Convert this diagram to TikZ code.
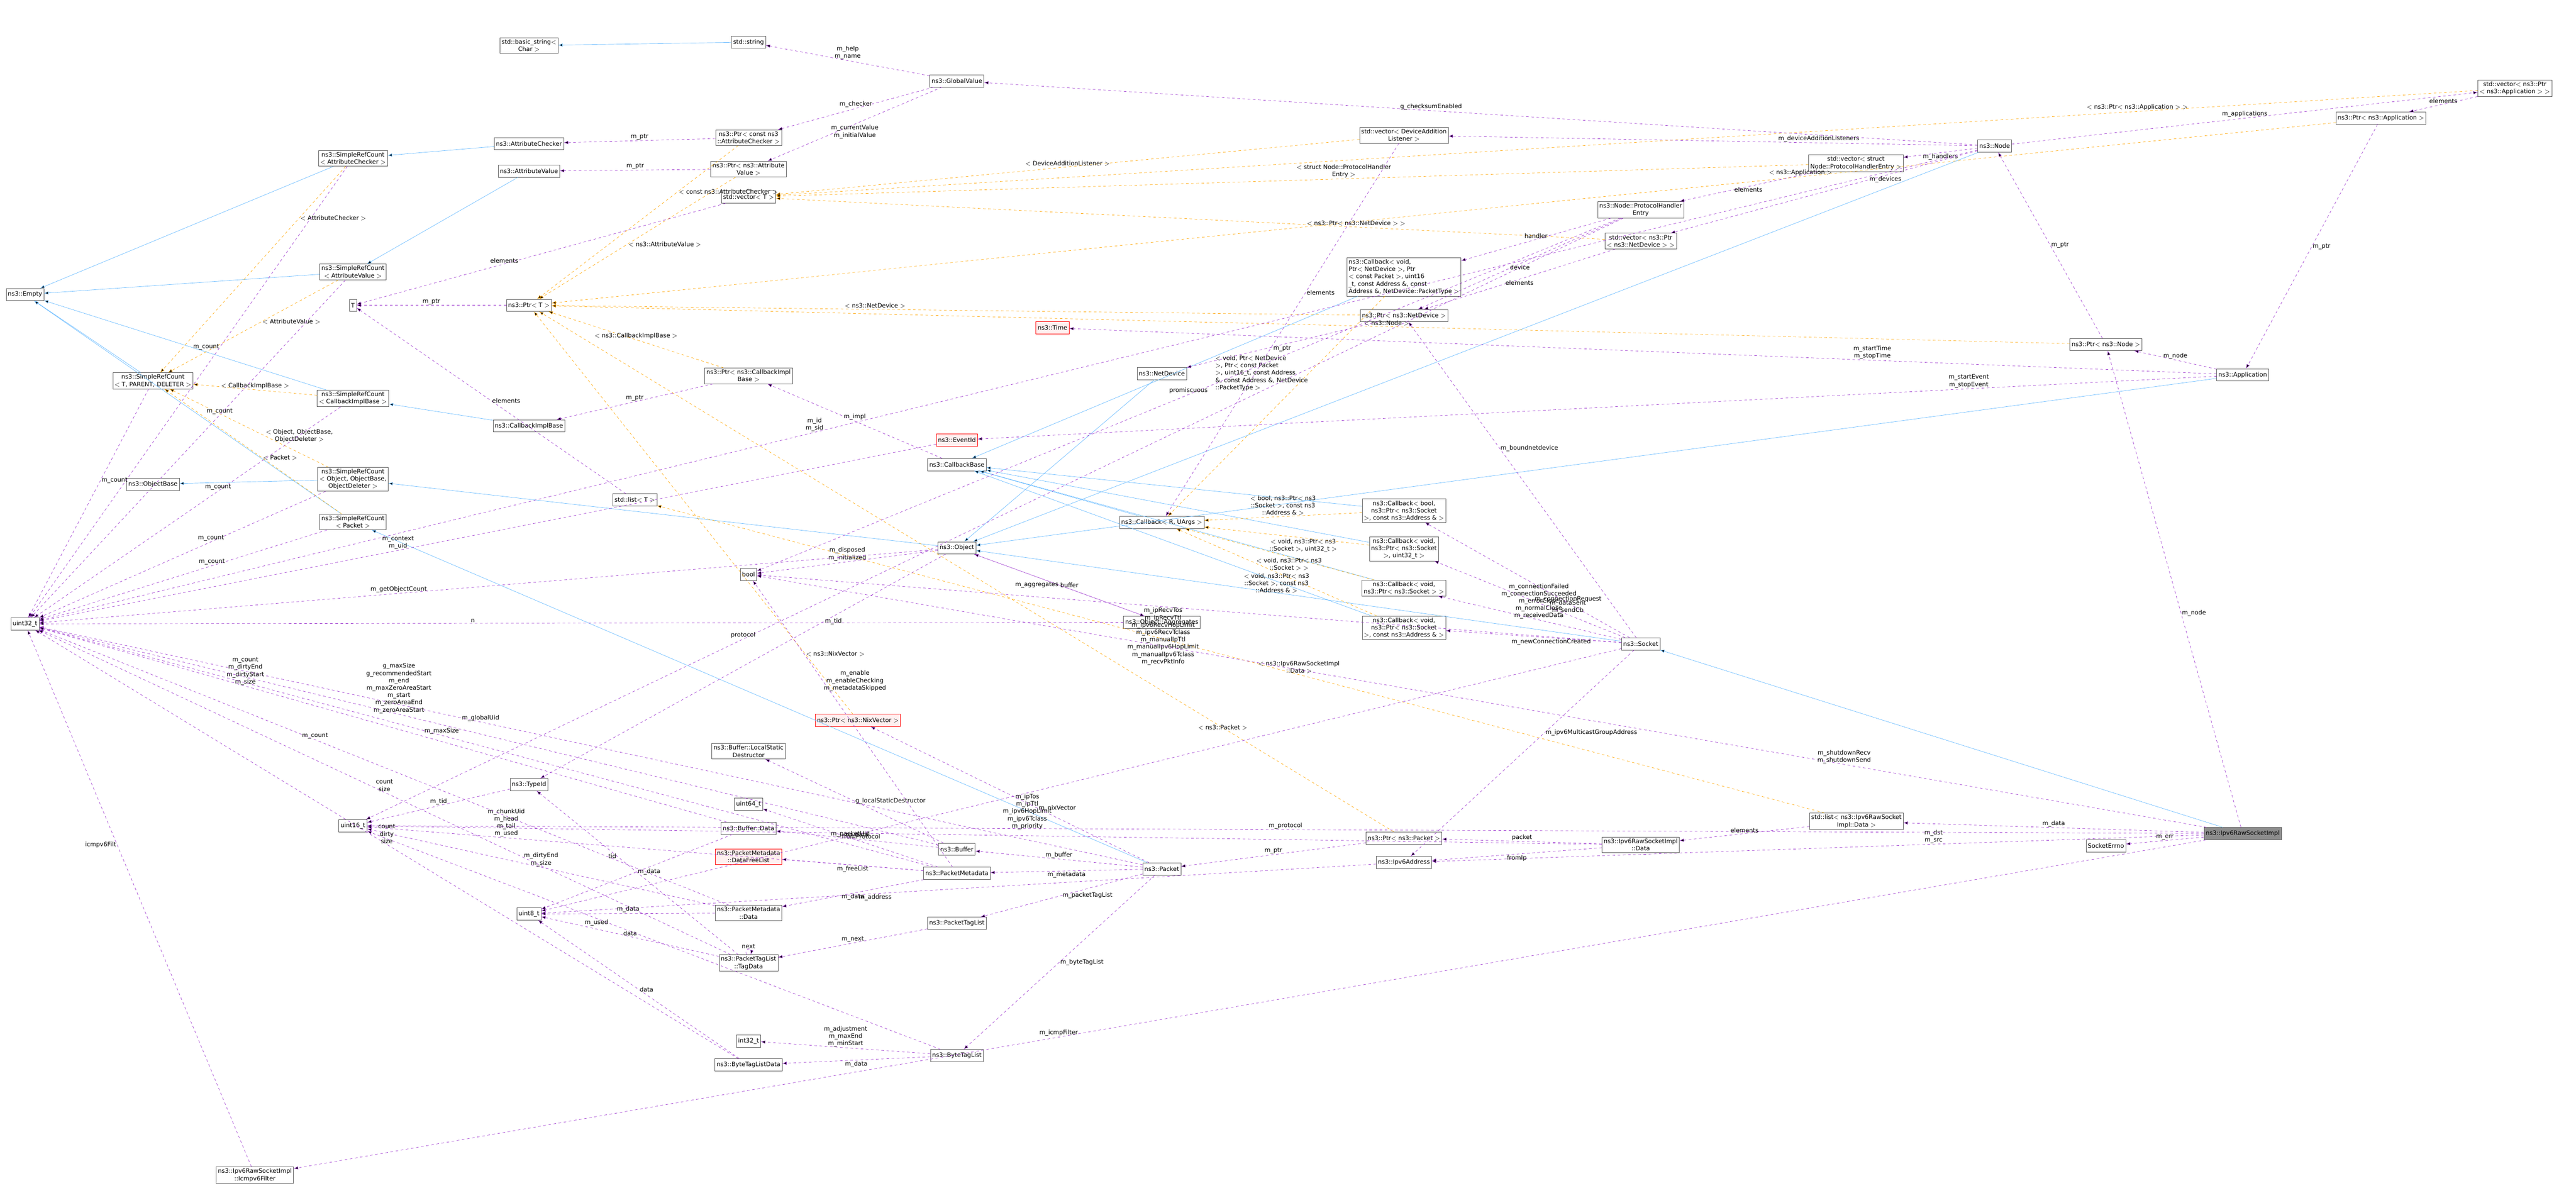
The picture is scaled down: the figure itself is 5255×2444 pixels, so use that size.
\documentclass[tikz,border=0pt]{standalone}
\usepackage{fontspec}
\setmainfont{DejaVu Sans}
\usepackage{tikz}
\usetikzlibrary{arrows.meta}
\definecolor{memc}{HTML}{9A32CD}
\definecolor{inhc}{HTML}{63B8FF}
\definecolor{tplc}{HTML}{FFA500}
\begin{document}
\begin{tikzpicture}[x=0.02cm,y=0.02cm]
          \tikzstyle{cls}=[rectangle,draw=black!65,fill=white,align=center,inner sep=2pt,minimum height=0.5cm,font=\fontsize{7}{8.5}\selectfont]
          \tikzstyle{redcls}=[cls,draw=red,fill=red!6]
          \tikzstyle{focus}=[cls,fill=black!45]
          \tikzstyle{mem}=[draw=memc,dashed,-{Latex[length=5pt]}]
          \tikzstyle{inh}=[draw=inhc,-{Latex[length=5pt]}]
          \tikzstyle{tpl}=[draw=tplc,dashed,-{Latex[length=5pt]}]
          \tikzstyle{lbl}=[font=\fontsize{7}{8.5}\selectfont,align=center,inner sep=1pt]
          \useasboundingbox (0,0) rectangle (5255,-2444);

          % left column
          \node[cls](empty) at (51,-601){ns3::Empty};
          \node[cls](uint32) at (51,-1273){uint32\_t};
          \node[cls](srcTPD) at (312,-777){ns3::SimpleRefCount\\$<$ T, PARENT, DELETER $>$};
          \node[cls](objbase) at (312,-988){ns3::ObjectBase};
          \node[cls](icmp) at (520,-2398){ns3::Ipv6RawSocketImpl\\::Icmpv6Filter};
          \node[cls](srcAC) at (720,-323){ns3::SimpleRefCount\\$<$ AttributeChecker $>$};
          \node[cls](srcAV) at (720,-555){ns3::SimpleRefCount\\$<$ AttributeValue $>$};
          \node[cls](Tt) at (720,-623){T};
          \node[cls](srcCIB) at (720,-813){ns3::SimpleRefCount\\$<$ CallbackImplBase $>$};
          \node[cls](srcObj) at (720,-978){ns3::SimpleRefCount\\$<$ Object, ObjectBase,\\ObjectDeleter $>$};
          \node[cls](srcPkt) at (720,-1065){ns3::SimpleRefCount\\$<$ Packet $>$};
          \node[cls](uint16) at (720,-1685){uint16\_t};
          \node[cls](basicstr) at (1079,-93){std::basic\_string$<$\\Char $>$};
          \node[cls](attrchk) at (1079,-293){ns3::AttributeChecker};
          \node[cls](attrval) at (1079,-349){ns3::AttributeValue};
          \node[cls](ptrT) at (1079,-623){ns3::Ptr$<$ T $>$};
          \node[cls](cib) at (1079,-869){ns3::CallbackImplBase};
          \node[cls](typeid) at (1079,-1601){ns3::TypeId};
          \node[cls](uint8) at (1079,-1865){uint8\_t};
          \node[cls](listT) at (1295,-1020){std::list$<$ T $>$};
          \node[cls](stdstr) at (1527,-86){std::string};
          \node[cls](ptrAC) at (1527,-281){ns3::Ptr$<$ const ns3\\::AttributeChecker $>$};
          \node[cls](ptrAV) at (1527,-345){ns3::Ptr$<$ ns3::Attribute\\Value $>$};
          \node[cls](vecT) at (1527,-402){std::vector$<$ T $>$};
          \node[cls](ptrCIB) at (1527,-767){ns3::Ptr$<$ ns3::CallbackImpl\\Base $>$};
          \node[cls](boolt) at (1527,-1172){bool};
          \node[cls](lsd) at (1527,-1533){ns3::Buffer::LocalStatic\\Destructor};
          \node[cls](uint64) at (1527,-1641){uint64\_t};
          \node[cls](bufdata) at (1527,-1690){ns3::Buffer::Data};
          \node[redcls](dfl) at (1527,-1748){ns3::PacketMetadata\\::DataFreeList};
          \node[cls](pmdata) at (1527,-1863){ns3::PacketMetadata\\::Data};
          \node[cls](tagdata) at (1527,-1965){ns3::PacketTagList\\::TagData};
          \node[cls](int32) at (1527,-2124){int32\_t};
          \node[cls](btldata) at (1527,-2173){ns3::ByteTagListData};
          \node[redcls](ptrNix) at (1750,-1470){ns3::Ptr$<$ ns3::NixVector $>$};

          % middle
          \node[cls](globalval) at (1952,-165){ns3::GlobalValue};
          \node[redcls](eventid) at (1952,-898){ns3::EventId};
          \node[cls](cbbase) at (1952,-948){ns3::CallbackBase};
          \node[cls](object) at (1952,-1118){ns3::Object};
          \node[cls](buffer) at (1952,-1733){ns3::Buffer};
          \node[cls](pmeta) at (1952,-1782){ns3::PacketMetadata};
          \node[cls](ptlist) at (1952,-1884){ns3::PacketTagList};
          \node[cls](btlist) at (1952,-2154){ns3::ByteTagList};
          \node[redcls](timeN) at (2147,-669){ns3::Time};
          \node[cls](netdev) at (2370,-762){ns3::NetDevice};
          \node[cls](cbR) at (2370,-1066){ns3::Callback$<$ R, UArgs $>$};
          \node[cls](aggr) at (2370,-1270){ns3::Object::Aggregates};
          \node[cls](packet) at (2370,-1773){ns3::Packet};
          \node[cls](vecDAL) at (2864,-276){std::vector$<$ DeviceAddition\\Listener $>$};
          \node[cls,align=left](cbND) at (2864,-565){ns3::Callback$<$ void,\\ Ptr$<$ NetDevice $>$, Ptr\\$<$ const Packet $>$, uint16\\\_t, const Address \&, const\\ Address \&, NetDevice::PacketType $>$};
          \node[cls](ptrND) at (2864,-644){ns3::Ptr$<$ ns3::NetDevice $>$};
          \node[cls](cbBool) at (2864,-1042){ns3::Callback$<$ bool,\\ ns3::Ptr$<$ ns3::Socket\\ $>$, const ns3::Address \& $>$};
          \node[cls](cbU32) at (2864,-1120){ns3::Callback$<$ void,\\ ns3::Ptr$<$ ns3::Socket\\ $>$, uint32\_t $>$};
          \node[cls](cbSock) at (2864,-1200){ns3::Callback$<$ void,\\ ns3::Ptr$<$ ns3::Socket $>$ $>$};
          \node[cls](cbAddr) at (2864,-1281){ns3::Callback$<$ void,\\ ns3::Ptr$<$ ns3::Socket\\ $>$, const ns3::Address \& $>$};
          \node[cls](ptrPkt) at (2864,-1710){ns3::Ptr$<$ ns3::Packet $>$};
          \node[cls](ipv6addr) at (2864,-1760){ns3::Ipv6Address};

          % right
          \node[cls](phe) at (3347,-428){ns3::Node::ProtocolHandler\\Entry};
          \node[cls](vecND) at (3347,-492){std::vector$<$ ns3::Ptr\\$<$ ns3::NetDevice $>$ $>$};
          \node[cls](socket) at (3347,-1314){ns3::Socket};
          \node[cls](rawdata) at (3347,-1724){ns3::Ipv6RawSocketImpl\\::Data};
          \node[cls](vecPHE) at (3786,-333){std::vector$<$ struct\\Node::ProtocolHandlerEntry $>$};
          \node[cls](listData) at (3787,-1676){std::list$<$ ns3::Ipv6RawSocket\\Impl::Data $>$};
          \node[cls](node) at (4069,-298){ns3::Node};
          \node[cls](ptrNode) at (4296,-703){ns3::Ptr$<$ ns3::Node $>$};
          \node[cls](sockerr) at (4296,-1726){SocketErrno};
          \node[cls](app) at (4575,-765){ns3::Application};
          \node[focus](raw) at (4575,-1701){ns3::Ipv6RawSocketImpl};
          \node[cls](ptrApp) at (4857,-241){ns3::Ptr$<$ ns3::Application $>$};
          \node[cls](vecApp) at (5130,-180){std::vector$<$ ns3::Ptr\\$<$ ns3::Application $>$ $>$};

          % inheritance
          \path[inh]
          (srcAC) edge (empty)
          (srcAV) edge (empty)
          (srcTPD) edge (empty)
          (srcCIB) edge (empty)
          (srcPkt) edge (empty)
          (attrchk) edge (srcAC)
          (attrval) edge (srcAV)
          (cib) edge (srcCIB)
          (srcObj) edge (objbase)
          (stdstr) edge (basicstr)
          (object) edge (srcObj)
          (packet) edge (srcPkt)
          (netdev) edge (object)
          (cbND) edge (cbbase)
          (cbR) edge (cbbase)
          (cbBool) edge (cbbase)
          (cbU32) edge (cbbase)
          (cbSock) edge (cbbase)
          (cbAddr) edge (cbbase)
          (node) edge (object)
          (app) edge (object)
          (socket) edge (object)
          (raw) edge (socket);

          % templates
          \path[tpl]
          (srcAC) edge node[lbl,pos=0.25,right]{$<$ AttributeChecker $>$} (srcTPD)
          (srcAV) edge node[lbl,pos=0.45,right]{$<$ AttributeValue $>$} (srcTPD)
          (srcCIB) edge node[lbl,above]{$<$ CallbackImplBase $>$} (srcTPD)
          (srcObj) edge node[lbl,pos=0.4,right]{$<$ Object, ObjectBase,\\ObjectDeleter $>$} (srcTPD)
          (srcPkt) edge node[lbl,pos=0.45,right]{$<$ Packet $>$} (srcTPD)
          (ptrAC) edge node[lbl,pos=0.3,right]{$<$ const ns3::AttributeChecker $>$} (ptrT)
          (ptrAV) edge node[lbl,pos=0.55,right]{$<$ ns3::AttributeValue $>$} (ptrT)
          (ptrCIB) edge node[lbl,above]{$<$ ns3::CallbackImplBase $>$} (ptrT)
          (ptrPkt) edge node[lbl,pos=0.2]{$<$ ns3::Packet $>$} (ptrT)
          (ptrNix) edge node[lbl,pos=0.15,right]{$<$ ns3::NixVector $>$} (ptrT)
          (ptrND) edge node[lbl,pos=0.6,above]{$<$ ns3::NetDevice $>$} (ptrT)
          (ptrNode) edge node[lbl,pos=0.45,above]{$<$ ns3::Node $>$} (ptrT)
          (ptrApp) edge node[lbl,pos=0.3,above]{$<$ ns3::Application $>$} (ptrT)
          (vecDAL) edge node[lbl,above]{$<$ DeviceAdditionListener $>$} (vecT)
          (vecPHE) edge node[lbl,pos=0.45,above]{$<$ struct Node::ProtocolHandler\\Entry $>$} (vecT)
          (vecND) edge node[lbl,pos=0.3,above]{$<$ ns3::Ptr$<$ ns3::NetDevice $>$ $>$} (vecT)
          (vecApp) edge node[lbl,pos=0.2,above]{$<$ ns3::Ptr$<$ ns3::Application $>$ $>$} (vecT)
          (listData) edge node[lbl,pos=0.45,above]{$<$ ns3::Ipv6RawSocketImpl\\::Data $>$} (listT)
          (cbND) edge node[lbl,pos=0.35,align=left,left]{$<$ void, Ptr$<$ NetDevice\\$>$, Ptr$<$ const Packet\\$>$, uint16\_t, const Address\\\&, const Address \&, NetDevice\\::PacketType $>$} (cbR)
          (cbBool) edge node[lbl,above]{$<$ bool, ns3::Ptr$<$ ns3\\::Socket $>$, const ns3\\::Address \& $>$} (cbR)
          (cbU32) edge node[lbl,below,pos=0.4]{$<$ void, ns3::Ptr$<$ ns3\\::Socket $>$, uint32\_t $>$} (cbR)
          (cbSock) edge node[lbl,below,pos=0.45]{$<$ void, ns3::Ptr$<$ ns3\\::Socket $>$ $>$} (cbR)
          (cbAddr) edge node[lbl,below,pos=0.5]{$<$ void, ns3::Ptr$<$ ns3\\::Socket $>$, const ns3\\::Address \& $>$} (cbR);

          % members
          \path[mem]
          (globalval) edge node[lbl,above]{m\_help\\m\_name} (stdstr)
          (globalval) edge node[lbl,above]{m\_checker} (ptrAC)
          (globalval) edge node[lbl,below]{m\_currentValue\\m\_initialValue} (ptrAV)
          (ptrAC) edge node[lbl,above]{m\_ptr} (attrchk)
          (ptrAV) edge node[lbl,above]{m\_ptr} (attrval)
          (ptrT) edge node[lbl,above]{m\_ptr} (Tt)
          (vecT) edge node[lbl,pos=0.6,above]{elements} (Tt)
          (listT) edge node[lbl,right]{elements} (Tt)
          (ptrCIB) edge node[lbl,above]{m\_ptr} (cib)
          (cbbase) edge node[lbl,above]{m\_impl} (ptrCIB)
          (srcAC) edge node[lbl,pos=0.4,left]{m\_count} (uint32)
          (srcAV) edge node[lbl,pos=0.4,above]{m\_count} (uint32)
          (srcTPD) edge node[lbl,pos=0.4,right]{m\_count} (uint32)
          (srcCIB) edge node[lbl,pos=0.4,above]{m\_count} (uint32)
          (srcObj) edge node[lbl,pos=0.4,above]{m\_count} (uint32)
          (srcPkt) edge node[lbl,pos=0.4,above]{m\_count} (uint32)
          (eventid) edge node[lbl,pos=0.6,above]{m\_context\\m\_uid} (uint32)
          (app) edge node[lbl,pos=0.2,above]{m\_startEvent\\m\_stopEvent} (eventid)
          (app) edge node[lbl,pos=0.3,above]{m\_startTime\\m\_stopTime} (timeN)
          (app) edge node[lbl,above]{m\_node} (ptrNode)
          (ptrNode) edge node[lbl,right]{m\_ptr} (node)
          (ptrApp) edge node[lbl,right]{m\_ptr} (app)
          (vecApp) edge node[lbl,above]{elements} (ptrApp)
          (node) edge node[lbl,above]{m\_applications} (vecApp)
          (node) edge node[lbl,below]{m\_handlers} (vecPHE)
          (node) edge node[lbl,above,pos=0.3]{m\_deviceAdditionListeners} (vecDAL)
          (node) edge node[lbl,pos=0.3,below]{m\_devices} (vecND)
          (node) edge node[lbl,above,pos=0.55]{g\_checksumEnabled} (globalval)
          (node) edge node[lbl,above,pos=0.6]{m\_id\\m\_sid} (uint32)
          (vecPHE) edge node[lbl,below]{elements} (phe)
          (phe) edge node[lbl,above]{handler} (cbND)
          (phe) edge node[lbl,below]{device} (ptrND)
          (phe) edge node[lbl,above,pos=0.7]{protocol} (uint16)
          (phe) edge node[lbl,pos=0.5,above]{promiscuous} (boolt)
          (vecND) edge node[lbl,below]{elements} (ptrND)
          (ptrND) edge node[lbl,below]{m\_ptr} (netdev)
          (vecDAL) edge node[lbl,right,pos=0.4]{elements} (cbR)
          (socket) edge node[lbl,pos=0.6,right]{m\_boundnetdevice} (ptrND)
          (socket) edge node[lbl,above,pos=0.3]{m\_connectionRequest} (cbBool)
          (socket) edge node[lbl,above,pos=0.3]{m\_dataSent\\m\_sendCb} (cbU32)
          (socket) edge node[lbl,above,pos=0.45]{m\_connectionFailed\\m\_connectionSucceeded\\m\_errorClose\\m\_normalClose\\m\_receivedData} (cbSock)
          (socket) edge node[lbl,below,pos=0.4]{m\_newConnectionCreated} (cbAddr)
          (socket) edge node[lbl,pos=0.53,below]{m\_ipRecvTos\\m\_ipRecvTtl\\m\_ipv6RecvHopLimit\\m\_ipv6RecvTclass\\m\_manualIpTtl\\m\_manualIpv6HopLimit\\m\_manualIpv6Tclass\\m\_recvPktInfo} (boolt)
          (socket) edge node[lbl,pos=0.55,below]{m\_ipTos\\m\_ipTtl\\m\_ipv6HopLimit\\m\_ipv6Tclass\\m\_priority} (uint8)
          (socket) edge node[lbl,pos=0.4,right]{m\_ipv6MulticastGroupAddress} (ipv6addr)
          (raw) edge node[lbl,pos=0.45,right]{m\_node} (ptrNode)
          (raw) edge node[lbl,pos=0.25,above]{m\_shutdownRecv\\m\_shutdownSend} (boolt)
          (raw) edge node[lbl,above]{m\_data} (listData)
          (raw) edge node[lbl,above]{m\_err} (sockerr)
          (raw) edge node[lbl,pos=0.35,above]{m\_dst\\m\_src} (ipv6addr)
          (raw) edge node[lbl,pos=0.5,above]{m\_protocol} (uint16)
          (raw) edge node[lbl,above,pos=0.6]{m\_icmpFilter} (icmp)
          (icmp) edge node[lbl,pos=0.6,left]{icmpv6Filt} (uint32)
          (rawdata) edge node[lbl,above]{packet} (ptrPkt)
          (rawdata) edge node[lbl,below]{fromIp} (ipv6addr)
          (rawdata) edge node[lbl,pos=0.6,below]{fromProtocol} (uint16)
          (listData) edge node[lbl,above]{elements} (rawdata)
          (ptrPkt) edge node[lbl,above]{m\_ptr} (packet)
          (packet) edge node[lbl,above]{m\_buffer} (buffer)
          (packet) edge node[lbl,below]{m\_metadata} (pmeta)
          (packet) edge node[lbl,right]{m\_packetTagList} (ptlist)
          (packet) edge node[lbl,right]{m\_byteTagList} (btlist)
          (packet) edge node[lbl,right,pos=0.4]{m\_nixVector} (ptrNix)
          (packet) edge node[lbl,pos=0.6,above]{m\_globalUid} (uint32)
          (ipv6addr) edge node[lbl,pos=0.6,below]{m\_address} (uint8)
          (aggr) edge node[lbl,right]{buffer} (object)
          (object) edge node[lbl,left]{m\_aggregates} (aggr)
          (object) edge node[lbl,right,pos=0.3]{m\_tid} (typeid)
          (object) edge node[lbl,above]{m\_disposed\\m\_initialized} (boolt)
          (object) edge node[lbl,pos=0.6,above]{m\_getObjectCount} (uint32)
          (aggr) edge node[lbl,above,pos=0.6]{n} (uint32)
          (typeid) edge node[lbl,above]{m\_tid} (uint16)
          (bufdata) edge node[lbl,above,pos=0.7]{m\_count\\m\_dirtyEnd\\m\_dirtyStart\\m\_size} (uint32)
          (bufdata) edge node[lbl,right]{m\_data} (uint8)
          (buffer) edge node[lbl,pos=0.6,above]{g\_maxSize\\g\_recommendedStart\\m\_end\\m\_maxZeroAreaStart\\m\_start\\m\_zeroAreaEnd\\m\_zeroAreaStart} (uint32)
          (buffer) edge node[lbl,above]{m\_data} (bufdata)
          (buffer) edge node[lbl,right]{g\_localStaticDestructor} (lsd)
          (pmeta) edge node[lbl,pos=0.75,above]{m\_chunkUid\\m\_head\\m\_tail\\m\_used} (uint16)
          (pmdata) edge node[lbl,above,pos=0.5]{m\_dirtyEnd\\m\_size} (uint16)
          (pmdata) edge node[lbl,above,pos=0.6]{m\_count} (uint32)
          (pmdata) edge node[lbl,above]{m\_data} (uint8)
          (pmeta) edge node[lbl,below]{m\_data} (pmdata)
          (pmeta) edge node[lbl,below]{m\_freeList} (dfl)
          (pmeta) edge node[lbl,above]{m\_packetUid} (uint64)
          (pmeta) edge node[lbl,pos=0.65,right]{m\_enable\\m\_enableChecking\\m\_metadataSkipped} (boolt)
          (pmeta) edge node[lbl,pos=0.55,above]{m\_maxSize} (uint32)
          (tagdata) edge node[lbl,left,pos=0.6]{tid} (typeid)
          (tagdata) edge node[lbl,above]{data} (uint8)
          (tagdata) edge[loop above,looseness=4] node[lbl,above]{next} (tagdata)
          (tagdata) edge node[lbl,above,pos=0.5]{count\\size} (uint32)
          (ptlist) edge node[lbl,above]{m\_next} (tagdata)
          (btlist) edge node[lbl,above]{m\_adjustment\\m\_maxEnd\\m\_minStart} (int32)
          (btlist) edge node[lbl,below]{m\_data} (btldata)
          (btldata) edge node[lbl,right]{data} (uint8)
          (btldata) edge node[lbl,above,pos=0.5]{count\\dirty\\size} (uint32)
          (btlist) edge node[lbl,pos=0.6,below]{m\_used} (uint16);
        \end{tikzpicture}
\end{document}
